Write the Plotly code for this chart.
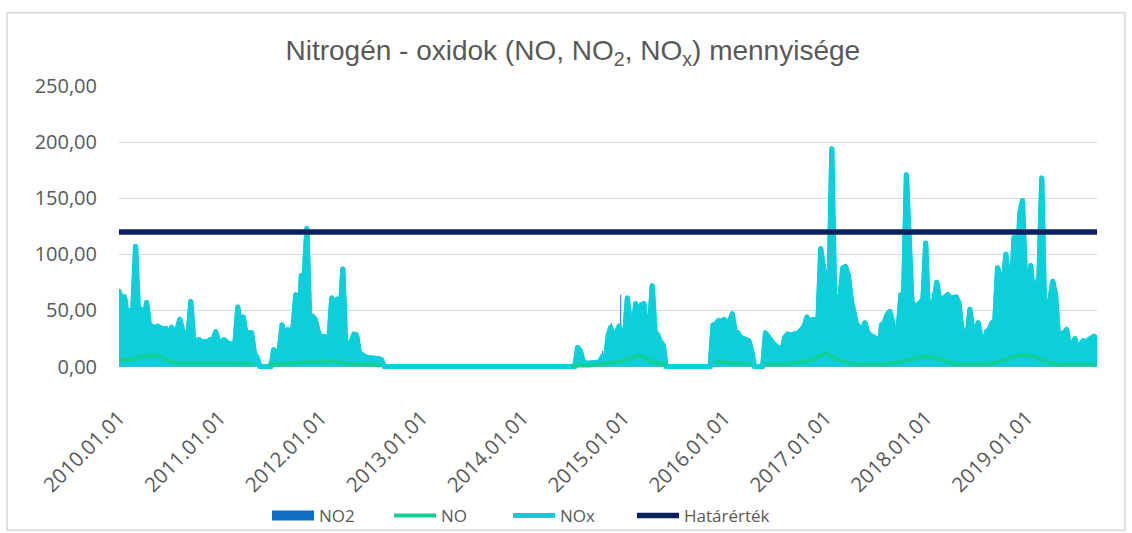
import pandas as pd
import plotly.graph_objects as go

# ---------------- data ----------------
title_text = "Nitrogén - oxidok (NO, NO<sub>2</sub>, NO<sub>x</sub>) mennyisége"

# NOx: one reading every 10 days starting 2010-01-01 (gaps were plotted as 0)
nox_start = "2010-01-01"
nox_values = [
    67, 60, 62, 45, 50, 50, 107, 50, 51, 40,
    57, 36, 36, 34, 36, 35, 33, 34, 25, 35,
    30, 33, 42, 33, 25, 28, 58, 24, 23, 24,
    22, 22, 22, 24, 24, 31, 23, 22, 24, 22,
    20, 20, 22, 53, 35, 44, 28, 30, 30, 12,
    8, 0, 0, 0, 0, 0, 15, 12, 14, 37,
    22, 33, 30, 35, 64, 35, 81, 80, 123, 42,
    45, 42, 32, 26, 27, 26, 25, 61, 55, 60,
    45, 87, 23, 20, 22, 29, 28, 12, 10, 9,
    8, 8, 8, 8, 7, 6,
    0, 0, 0, 0, 0, 0, 0, 0, 0, 0,
    0, 0, 0, 0, 0, 0, 0, 0, 0, 0,
    0, 0, 0, 0, 0, 0, 0, 0, 0, 0,
    0, 0, 0, 0, 0, 0, 0, 0, 0, 0,
    0, 0, 0, 0, 0, 0, 0, 0, 0, 0,
    0, 0, 0, 0, 0, 0, 0, 0, 0, 0,
    0, 0, 0, 0, 0, 0, 0, 0, 0, 0,
    17, 14, 5, 3, 3, 3, 3, 3, 4, 9,
    4, 27, 35, 24, 30, 36, 25, 28, 61, 40,
    30, 56, 45, 55, 56, 30, 35, 72, 31, 28, 22, 19,
    0, 0, 0, 0, 0, 0, 0, 0, 0, 0, 0, 0, 0, 0, 0, 0, 0,
    37, 38, 41, 40, 42, 40, 40, 47, 31, 30, 26, 25, 23, 23, 14,
    0, 0, 0, 0,
    30, 26, 23, 20, 18, 17, 15, 26, 29, 28,
    29, 29, 30, 33, 36, 44, 39, 42, 42, 41,
    105, 84, 72, 70, 194, 64, 62, 62, 88, 89,
    81, 60, 48, 37, 35, 32, 39, 30, 28, 26,
    25, 7, 37, 39, 46, 49, 40, 25, 32, 64,
    63, 171, 107, 58, 54, 54, 57, 60, 110, 45,
    54, 60, 75, 60, 60, 62, 64, 61, 61, 62,
    57, 35, 27, 27, 51, 33, 30, 39, 25, 18,
    31, 33, 39, 40, 88, 81, 70, 100, 79, 70,
    115, 63, 136, 148, 84, 70, 90, 63, 70, 81,
    168, 51, 51, 60, 76, 64, 29, 30, 30, 33,
    18, 20, 25, 13, 20, 23, 22, 24, 25, 27, 24,
]

# NO: monthly readings (first day of month), None = no data
no_start = "2010-01-01"
no_values = [
    6, 6, 7, 9, 10, 9, 5, 3, 3, 3, 3, 3,                                  # 2010
    3, 3, 3, 3, 2, None, 2, 2, 3, 3, 4, 4,                                # 2011
    4, 5, 4, 3, 2, 2, 2, 1, None, None, None, None,                       # 2012
    None, None, None, None, None, None, None, None, None, None, None, None,  # 2013
    None, None, None, None, None, None, 1, 1, 1, 2, 3, 4,                 # 2014
    5, 8, 10, 6, 3, 2, None, None, None, None, None, 4,                   # 2015
    4, 3, 3, 2, None, 2, 2, 2, 3, 4, 5, 8,                                # 2016
    12, 8, 5, 3, 2, 2, 2, 2, 3, 4, 6, 8,                                  # 2017
    9, 7, 6, 3, 2, 2, 2, 2, 3, 5, 8, 10,                                  # 2018
    10, 9, 5, 3, 2, 2, 2, 2, 2,                                           # 2019
]

# NO2 (area series)
no2_dates = [
    "2010-01-01", "2010-02-01", "2010-03-01", "2010-04-01", "2010-04-20",
    "2010-05-10", "2010-06-01", "2010-06-20", "2010-07-15", "2010-09-01",
    "2011-01-01", "2011-05-15", "2011-05-20", "2011-07-10", "2012-01-01",
    "2012-08-10", "2012-08-15", "2014-07-05", "2014-10-16", "2014-10-17",
    "2014-10-18", "2014-11-17", "2014-11-18", "2014-11-19", "2014-12-21",
    "2014-12-22", "2014-12-23", "2015-02-01", "2015-06-01", "2015-06-05",
    "2015-11-20", "2016-04-12", "2016-04-15", "2016-05-26", "2017-01-15",
    "2018-01-01", "2019-01-01", "2019-09-11",
]
no2_values = [
    4, 5, 6, 12, 13,
    11, 12, 7, 3, 3,
    3, 2, 0, 2, 3,
    1, 0, 1, 2, 14,
    2, 3, 39, 3, 3,
    64, 3, 5, 2, 0,
    2, 2, 0, 2, 4,
    4, 4, 2,
]

limit_value = 120.0

year_ticks = pd.date_range("2010-01-01", "2019-01-01", freq="YS")
year_labels = [d.strftime("%Y.%m.%d") for d in year_ticks]

# ---------------- figure ----------------
nox_dates = pd.date_range(nox_start, periods=len(nox_values), freq="10D")
no_dates = pd.date_range(no_start, periods=len(no_values), freq="MS")

C_NO2 = "#0F6FC6"
C_NO = "#12CF98"
C_NOX = "#0CCFD9"
C_LIM = "#0A2160"
TXT = "#595959"

fig = go.Figure()

# NO2 area (drawn first, mostly hidden behind NOx as in the original)
fig.add_trace(go.Scatter(x=no2_dates, y=no2_values, mode="lines", name="NO2",
                         line=dict(color=C_NO2, width=0.6), fill="tozeroy",
                         fillcolor=C_NO2, showlegend=False))
# NO2 legend key (area swatch)
fig.add_trace(go.Scatter(x=[None], y=[None], mode="lines", name="NO2",
                         line=dict(color=C_NO2, width=12), legend="legend"))
# NOx legend line (hidden beneath the filled NOx trace)
fig.add_trace(go.Scatter(x=nox_dates, y=nox_values, mode="lines", name="NOx",
                         line=dict(color=C_NOX, width=5), legend="legend3",
                         hoverinfo="skip"))
fig.add_trace(go.Scatter(x=nox_dates, y=nox_values, mode="lines", name="NOx",
                         line=dict(color=C_NOX, width=5), fill="tozeroy",
                         fillcolor=C_NOX, showlegend=False))
fig.add_trace(go.Scatter(x=no_dates, y=no_values, mode="lines", name="NO",
                         line=dict(color=C_NO, width=4), legend="legend2"))
fig.add_trace(go.Scatter(x=[nox_dates[0], nox_dates[-1]], y=[limit_value, limit_value],
                         mode="lines", name="Határérték",
                         line=dict(color=C_LIM, width=5.5), legend="legend4"))


def legend_box(px):
    return dict(orientation="h", xref="container", yref="container",
                x=px / 1132, xanchor="left", y=1 - 516 / 533, yanchor="middle",
                font=dict(family="Open Sans", size=17, color=TXT),
                itemwidth=42, bgcolor="rgba(0,0,0,0)")


fig.update_layout(
    width=1132, height=533,
    margin=dict(l=119, r=35, t=86, b=163.5, autoexpand=False),
    paper_bgcolor="white", plot_bgcolor="white",
    separators=", ",
    title=dict(text=title_text, x=0.506, xref="container", xanchor="center",
               y=1 - 50 / 533, yref="container", yanchor="middle",
               font=dict(family="Liberation Sans, Arial", size=28, color=TXT)),
    legend=legend_box(267),
    legend2=legend_box(389),
    legend3=legend_box(508),
    legend4=legend_box(632),
    showlegend=True,
    shapes=[dict(type="rect", xref="paper", yref="paper",
                 x0=-0.1145, x1=1.0286, y0=-0.57, y1=1.259,
                 line=dict(color="#D9D9D9", width=1.5), layer="below")],
)
fig.update_xaxes(type="date", range=[nox_dates[0], nox_dates[-1]],
                 tickmode="array", tickvals=year_ticks, ticktext=year_labels,
                 tickangle=-45, showgrid=False, showline=False, zeroline=False,
                 ticks="", ticklabelstandoff=32, automargin=False,
                 tickfont=dict(family="Open Sans", size=20.5, color=TXT))
fig.update_yaxes(range=[-2.2, 250], tick0=0, dtick=50, tickformat=".2f",
                 showgrid=True, gridcolor="#D9D9D9", gridwidth=1.3,
                 zeroline=False, showline=False, ticks="", ticklabelstandoff=21,
                 automargin=False,
                 tickfont=dict(family="Open Sans", size=20, color=TXT))

post = (
    "document.body.style.margin='0';"
    "document.querySelectorAll('.scatterlayer .js-line').forEach(function(p){"
    "p.style.strokeLinejoin='round';p.style.strokeLinecap='round';});"
    "document.querySelectorAll('.legend .js-line').forEach(function(p){"
    "var w=parseFloat(p.style.strokeWidth||'0');"
    "if(w<9){p.style.strokeLinecap='round';}});"
)
fig.write_html("out.html", post_script=post, config={"displayModeBar": False})
